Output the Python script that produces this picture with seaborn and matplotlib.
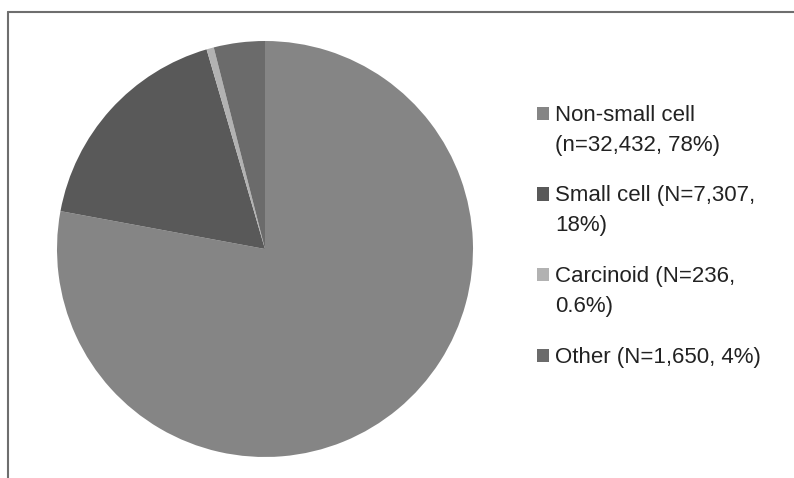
import matplotlib
matplotlib.use("Agg")
import matplotlib.pyplot as plt
from matplotlib.lines import Line2D
from matplotlib.patches import Rectangle
import seaborn as sns

categories = ["Non-small cell", "Small cell", "Carcinoid", "Other"]
counts = [32432, 7307, 236, 1650]
labels = [
    "Non-small cell\n(n=32,432, 78%)",
    "Small cell (N=7,307,\n18%)",
    "Carcinoid (N=236,\n0.6%)",
    "Other (N=1,650, 4%)",
]
colors = ["#858585", "#595959", "#b2b2b2", "#6b6b6b"]

W, H = 794, 478

sns.set_theme(style="white")
plt.rcParams["font.family"] = ["Liberation Sans", "DejaVu Sans"]

fig = plt.figure(figsize=(W / 100, H / 100), dpi=100)
# pie centred at (265, 249) px with radius ~208 px
r, cx, cy = 208, 265, 249
ax = fig.add_axes([(cx - r) / W, (H - cy - r) / H, 2 * r / W, 2 * r / H])

palette = sns.color_palette(colors)
wedges, _ = ax.pie(counts, colors=palette, startangle=90,
                   counterclock=False, wedgeprops={"linewidth": 0})
ax.set_xlim(-1, 1)
ax.set_ylim(-1, 1)
ax.set_aspect("equal")

# legend: square marker aligned with first line of each label
for i, (lab, col) in enumerate(zip(labels, palette)):
    base = 121 + i * 80.5
    fig.add_artist(Rectangle((537 / W, 1 - (base - 1) / H), 12 / W, 13 / H,
                             transform=fig.transFigure, facecolor=col, edgecolor="none"))
    for j, line in enumerate(lab.split("\n")):
        fig.text(555 / W, 1 - (base + j * 30) / H, line, fontsize=16,
                 color="#222222", va="baseline", ha="left")

# chart frame (cropped at right and bottom in the original)
fig.add_artist(Line2D([8 / W, 1.0], [1 - 12 / H, 1 - 12 / H], color="#6e6e6e", lw=1.5))
fig.add_artist(Line2D([8 / W, 8 / W], [0, 1 - 12 / H], color="#6e6e6e", lw=1.5))

fig.savefig("out.png", dpi=100)
